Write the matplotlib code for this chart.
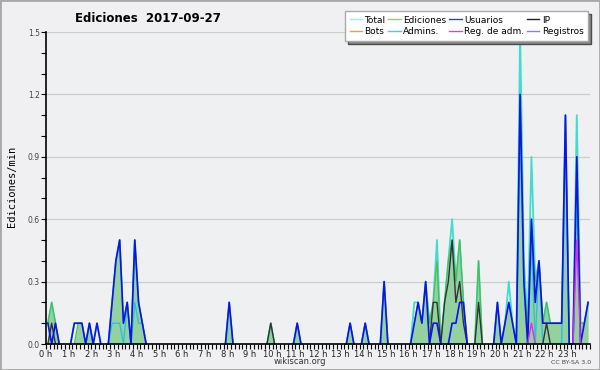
import numpy as np
import matplotlib
matplotlib.use("Agg")
import matplotlib.pyplot as plt
from matplotlib.lines import Line2D
from matplotlib.patches import Rectangle

# values per 10-minute bin (index 0..143), edits per minute; bins not listed are 0
n_bins = 144
total = {0: 0.1, 1: 0.2, 2: 0.1, 7: 0.1, 8: 0.1, 9: 0.1, 11: 0.1, 13: 0.1,
         17: 0.2, 18: 0.4, 19: 0.5, 20: 0.1, 21: 0.2, 23: 0.5, 24: 0.2, 25: 0.1,
         48: 0.2, 59: 0.1, 66: 0.1, 80: 0.1, 84: 0.1, 89: 0.3,
         97: 0.2, 98: 0.2, 99: 0.1, 100: 0.3, 101: 0.1, 102: 0.2, 103: 0.5,
         105: 0.2, 106: 0.4, 107: 0.6, 108: 0.3, 109: 0.5, 110: 0.2, 114: 0.4,
         119: 0.2, 121: 0.1, 122: 0.3, 123: 0.1, 125: 1.5, 126: 0.4, 127: 0.1,
         128: 0.9, 129: 0.3, 130: 0.4, 131: 0.1, 132: 0.2, 133: 0.1, 134: 0.1,
         135: 0.1, 136: 0.1, 137: 1.1, 140: 1.1, 141: 0.1, 142: 0.1, 143: 0.2}
ediciones = {0: 0.1, 1: 0.2, 2: 0.1, 8: 0.1, 9: 0.1, 11: 0.1,
             17: 0.2, 18: 0.4, 19: 0.5, 20: 0.1, 21: 0.2, 23: 0.5, 24: 0.2, 25: 0.1,
             48: 0.2, 59: 0.1, 66: 0.1, 80: 0.1, 84: 0.1, 89: 0.3,
             97: 0.1, 98: 0.2, 99: 0.1, 100: 0.3, 101: 0.1, 102: 0.2, 103: 0.4,
             105: 0.2, 106: 0.4, 107: 0.5, 108: 0.3, 109: 0.5, 110: 0.2, 114: 0.4,
             119: 0.2, 121: 0.1, 122: 0.2, 123: 0.1, 125: 1.2, 126: 0.3, 127: 0.1,
             128: 0.6, 129: 0.3, 130: 0.4, 131: 0.1, 132: 0.2, 133: 0.1, 134: 0.1,
             135: 0.1, 136: 0.1, 137: 1.1, 140: 0.9, 141: 0.1, 142: 0.1, 143: 0.2}
usuarios = {0: 0.1, 2: 0.1, 7: 0.1, 8: 0.1, 9: 0.1, 11: 0.1, 13: 0.1,
            17: 0.2, 18: 0.4, 19: 0.5, 20: 0.1, 21: 0.2, 23: 0.5, 24: 0.2, 25: 0.1,
            48: 0.2, 66: 0.1, 80: 0.1, 84: 0.1, 89: 0.3,
            97: 0.1, 98: 0.2, 99: 0.1, 100: 0.3, 102: 0.1, 103: 0.1,
            107: 0.1, 108: 0.1, 109: 0.2, 110: 0.2, 119: 0.2, 121: 0.1, 122: 0.2,
            123: 0.1, 125: 1.2, 126: 0.3, 128: 0.6, 129: 0.2, 130: 0.4, 131: 0.1,
            132: 0.1, 133: 0.1, 134: 0.1, 135: 0.1, 136: 0.1, 137: 1.1, 140: 0.9,
            142: 0.1, 143: 0.2}
ip = {1: 0.1, 59: 0.1, 102: 0.2, 103: 0.2, 105: 0.2, 106: 0.3, 107: 0.5,
      108: 0.2, 109: 0.3, 110: 0.1, 114: 0.2, 132: 0.1}
bots = {}
admins = {17: 0.1, 18: 0.1, 19: 0.1, 21: 0.2, 23: 0.2, 24: 0.1, 25: 0.1,
          125: 1.0, 126: 0.3, 128: 0.5, 130: 0.4, 137: 1.0, 140: 0.7}
reg_adm = {128: 0.1, 140: 0.5}
registros = {}

hour_labels = ["%d h" % h for h in range(24)]
colors = {"Total": "#40dcd0", "Ediciones": "#50bb50", "Usuarios": "#1010e8",
          "IP": "#333333", "Bots": "#f0a030", "Admins.": "#30c0dc",
          "Reg. de adm.": "#dd30dd", "Registros": "#7a7aff"}
legend_colors = {"Total": "#a8e8e8", "Ediciones": "#80d080", "Usuarios": "#3838e0",
                 "IP": "#202020", "Bots": "#f0a030", "Admins.": "#40d0e0",
                 "Reg. de adm.": "#e040e0", "Registros": "#8080ff"}

x = (np.arange(n_bins) + 0.5) / 6.0  # hours, bin centres


def series(d, hide_zero=True):
    y = np.zeros(n_bins)
    for k, v in d.items():
        y[k] = v
    if hide_zero:
        nz = y > 0
        keep = nz.copy()
        keep[1:] |= nz[:-1]
        keep[:-1] |= nz[1:]
        y = np.where(keep, y, np.nan)
    return y


fig = plt.figure(figsize=(6, 3.7), dpi=100)
fig.patch.set_facecolor("#f0f0f2")
fig.patches.append(Rectangle((0, 0), 1, 1, transform=fig.transFigure, fill=False,
                             edgecolor="#a8a8a8", lw=2))
ax = fig.add_axes([46 / 600, 26 / 370, 544 / 600, 312 / 370])
ax.set_facecolor("#eef0f2")

ed = series(ediciones, False)
ax.fill_between(x, 0, ed, color="#8fd09c", alpha=0.95, lw=0, zorder=1)
ax.plot(x, series(total), color=colors["Total"], lw=1.3, zorder=2, clip_on=False)
ax.plot(x, series(ediciones), color=colors["Ediciones"], lw=0.9, zorder=2)
ax.plot(x, series(admins), color=colors["Admins."], lw=1.0, zorder=2, clip_on=False)
ax.plot(x, series(ip), color=colors["IP"], lw=1.0, zorder=2)
ax.plot(x, series(usuarios), color=colors["Usuarios"], lw=1.2, zorder=2, clip_on=False)
ax.plot(x, series(reg_adm), color=colors["Reg. de adm."], lw=1.0, zorder=2)

ax.set_xlim(0, 24)
ax.set_ylim(0, 1.5)
for s in ["top", "right"]:
    ax.spines[s].set_visible(False)
ax.spines["left"].set_linewidth(1.2)
ax.spines["bottom"].set_linewidth(1.2)

ax.set_yticks(np.arange(0, 1.51, 0.3))
ax.set_yticklabels(["%.1f" % v for v in np.arange(0, 1.51, 0.3)])
ax.set_yticks(np.arange(0, 1.51, 0.1), minor=True)
ax.yaxis.grid(True, color="#cccccc", lw=0.9)
ax.set_axisbelow(True)
ax.set_xticks(np.arange(24))
ax.set_xticklabels(hour_labels)
ax.set_xticks(np.arange(0, 24.01, 1 / 6.0), minor=True)
ax.tick_params(axis="both", which="both", direction="out", length=3.5, width=0.8,
               color="black")
ax.tick_params(axis="y", labelsize=5.5, labelcolor="#444444", pad=1)
ax.tick_params(axis="x", labelsize=6, labelcolor="#222222", pad=0.5)

fig.text(75 / 600, 1 - 18 / 370, "Ediciones  2017-09-27", fontsize=8.5,
         weight="bold", va="center", ha="left")
fig.text(12 / 600, 1 - 186 / 370, "Ediciones/min", family="DejaVu Sans Mono",
         fontsize=7.5, rotation=90, va="center", ha="center")
fig.text(300 / 600, 1 - 362 / 370, "wikiscan.org", fontsize=6, color="#333333",
         ha="center", va="center")
fig.text(591 / 600, 1 - 362 / 370, "CC BY-SA 3.0", fontsize=4.5, color="#444444",
         ha="right", va="center")

order = ["Total", "Bots", "Ediciones", "Admins.", "Usuarios", "Reg. de adm.",
         "IP", "Registros"]
handles = [Line2D([], [], color=legend_colors[k], lw=1.0) for k in order]
fig.legend(handles, order, ncol=4, loc="upper right",
           bbox_to_anchor=(588 / 600, 1 - 11 / 370), fontsize=6.5, frameon=True,
           fancybox=False, shadow={"facecolor": "#888888", "alpha": 1.0},
           edgecolor="#aaaaaa", framealpha=1, handlelength=1.4, handletextpad=0.25,
           columnspacing=0.3, labelspacing=0.3, borderpad=0.5, borderaxespad=0)

fig.savefig("out.png", dpi=100, facecolor=fig.get_facecolor())
